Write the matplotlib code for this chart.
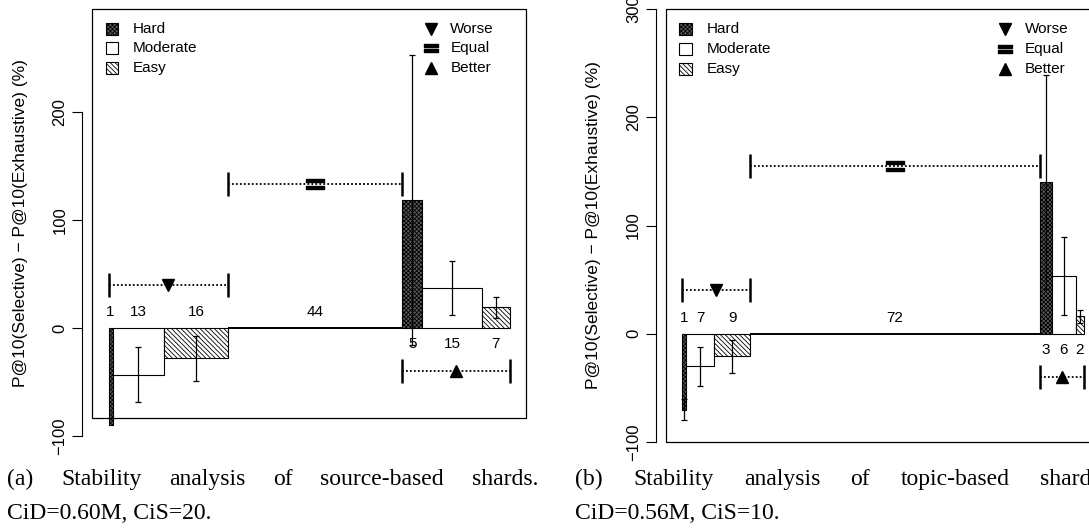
import matplotlib.pyplot as plt
import matplotlib.transforms as mtransforms
import numpy as np
from matplotlib.patches import Rectangle
from matplotlib.path import Path

plt.rcParams['font.family'] = ['Liberation Sans', 'DejaVu Sans']
plt.rcParams['hatch.linewidth'] = 0.6

levels = ['Hard', 'Moderate', 'Easy']
outcomes = ['Worse', 'Equal', 'Better']
bar_level = ['Hard', 'Moderate', 'Easy', 'Equal', 'Hard', 'Moderate', 'Easy']
bar_group = [0, 0, 0, 1, 2, 2, 2]

# (a) source-based shards: number of queries, mean and sd of the P@10 change
src_counts = [1, 13, 16, 44, 5, 15, 7]
src_means = [-90, -43, -28, 0, 118, 37, 19]
src_sd = [0, 25, 21, 0, 134, 25, 10]
src_mark_y = [40, 133, -40]

# (b) topic-based shards
top_counts = [1, 7, 9, 72, 3, 6, 2]
top_means = [-70, -30, -21, 0, 140, 53, 16]
top_sd = [10, 18, 15, 0, 99, 36, 6]
top_mark_y = [40, 155, -40]

fills = {
    'Hard': dict(facecolor='#5c5c5c', hatch='xxxxxxxx'),
    'Moderate': dict(facecolor='white'),
    'Easy': dict(facecolor='white', hatch='\\' * 7),
    'Equal': dict(facecolor='white'),
}

# "=" sign as a marker: two flat bars
eq_verts = [(-1, 0.18), (1, 0.18), (1, 0.62), (-1, 0.62), (-1, 0.18),
            (-1, -0.62), (1, -0.62), (1, -0.18), (-1, -0.18), (-1, -0.62)]
eq_codes = [Path.MOVETO, Path.LINETO, Path.LINETO, Path.LINETO, Path.CLOSEPOLY] * 2
eq_marker = Path(eq_verts, eq_codes)
marks = [('v', 9), (eq_marker, 12.5), ('^', 9)]
legend_marks = [('v', 9), (eq_marker, 9.5), ('^', 9)]

W, H = 1089, 531
fig = plt.figure(figsize=(W / 100, H / 100), dpi=100)


def px_rect(x0, y0, x1, y1):
    return [x0 / W, 1 - y1 / H, (x1 - x0) / W, (y1 - y0) / H]


def panel(rect, counts, means, sds, mark_y, ylim, box_bottom, yticks):
    ax = fig.add_axes(rect)
    counts = np.array(counts, dtype=float)
    left = np.concatenate([[0], np.cumsum(counts)[:-1]])
    centers = left + counts / 2

    for i in range(len(counts)):
        lw = 1.4 if bar_level[i] == 'Equal' else 0.8
        ax.bar(left[i], means[i], width=counts[i], align='edge',
               edgecolor='black', linewidth=lw, zorder=2, **fills[bar_level[i]])

    sd = np.array(sds, dtype=float)
    ok = sd > 0
    ax.errorbar(centers[ok], np.array(means)[ok], yerr=sd[ok], fmt='none',
                ecolor='black', elinewidth=0.9, capsize=2.5, capthick=0.9, zorder=3)

    for i in range(len(counts)):
        dy = -11.5 if bar_group[i] == 2 else 11.5
        ax.annotate(str(int(counts[i])), (centers[i], 0), xytext=(0, dy),
                    textcoords='offset points', ha='center', va='center',
                    fontsize=11, zorder=4)

    # group indicators: dotted span with end bars and outcome symbol
    for g in range(3):
        idx = [i for i in range(len(counts)) if bar_group[i] == g]
        x0 = left[idx[0]]
        x1 = left[idx[-1]] + counts[idx[-1]]
        y = mark_y[g]
        ax.plot([x0, x1], [y, y], color='black', lw=1.3, ls=(0, (1, 1.2)), zorder=3)
        ax.plot([x0, x1], [y, y], ls='none', marker='|', ms=17, mew=1.8,
                color='black', zorder=3)
        mk, ms = marks[g]
        ax.plot([(x0 + x1) / 2], [y], ls='none', marker=mk, ms=ms,
                color='black', zorder=4)

    # legends
    rows = [0.954, 0.908, 0.862]
    for i, lv in enumerate(levels):
        ax.add_patch(Rectangle((0.031, rows[i] - 0.014), 0.028, 0.028,
                               transform=ax.transAxes, edgecolor='black',
                               lw=0.8, **fills[lv]))
        ax.text(0.0935, rows[i], lv, transform=ax.transAxes, va='center',
                fontsize=11)
    for i, name in enumerate(outcomes):
        mk, ms = legend_marks[i]
        ax.plot([0.781], [rows[i]], transform=ax.transAxes, ls='none',
                marker=mk, ms=ms, color='black')
        ax.text(0.826, rows[i], name, transform=ax.transAxes, va='center',
                fontsize=11)

    total = counts.sum()
    ax.set_xlim(-0.04 * total, total * 1.04)
    ax.set_ylim(*ylim)

    # plot box
    trans = mtransforms.blended_transform_factory(ax.transAxes, ax.transData)
    ax.add_patch(Rectangle((0, box_bottom), 1, ylim[1] - box_bottom,
                           transform=trans, fill=False, edgecolor='black',
                           lw=0.9, clip_on=False, zorder=5))

    for s in ['top', 'right', 'bottom']:
        ax.spines[s].set_visible(False)
    ax.spines['left'].set_position(('outward', 7.5))
    ax.spines['left'].set_bounds(yticks[0], yticks[-1])
    ax.spines['left'].set_linewidth(0.8)
    ax.set_xticks([])
    ax.set_yticks(yticks)
    ax.tick_params(axis='y', length=7, width=0.8, pad=3.5, labelsize=12)
    for lab in ax.get_yticklabels():
        lab.set_rotation(90)
        lab.set_va('center')
    ax.set_ylabel('P@10(Selective) \u2212 P@10(Exhaustive) (%)', fontsize=12.5)
    ax.yaxis.set_label_coords(-0.149, 0.5)
    return ax


panel(px_rect(92.5, 9, 525.7, 436.2), src_counts, src_means, src_sd,
      src_mark_y, (-100, 294.8), -83, [-100, 0, 100, 200])
panel(px_rect(666, 9, 1100, 442), top_counts, top_means, top_sd,
      top_mark_y, (-100, 300), -100, [-100, 0, 100, 200, 300])

# sub-figure captions, first line justified
CAP_FS = 17
renderer = fig.canvas.get_renderer()


def caption(x0, width, words, second, y1, y2):
    items = [fig.text(0, 0, w, fontsize=CAP_FS, family='Liberation Serif')
             for w in words]
    widths = [t.get_window_extent(renderer).width for t in items]
    gap = (width - sum(widths)) / (len(words) - 1)
    x = x0
    for t, w in zip(items, widths):
        t.set_position((x / W, 1 - y1 / H))
        x += w + gap
    fig.text(x0 / W, 1 - y2 / H, second, fontsize=CAP_FS, family='Liberation Serif')


caption(7, 531, ['(a)', 'Stability', 'analysis', 'of', 'source-based', 'shards.'],
        'CiD=0.60M, CiS=20.', 485, 519)
caption(575, 531, ['(b)', 'Stability', 'analysis', 'of', 'topic-based', 'shards.'],
        'CiD=0.56M, CiS=10.', 485, 519)

fig.savefig('out.png', dpi=100)
